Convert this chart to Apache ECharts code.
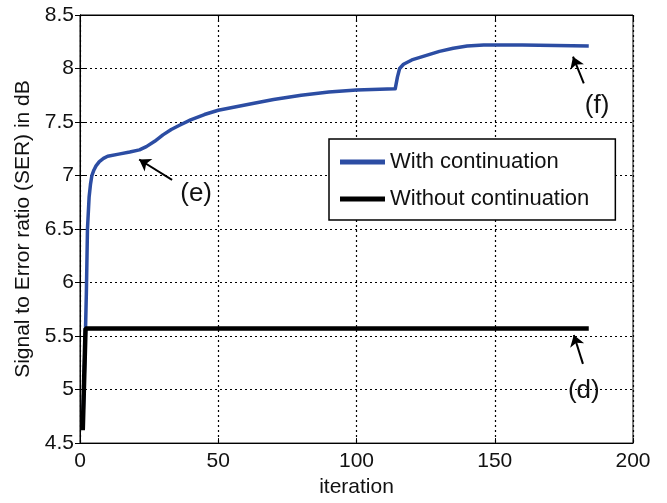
<!DOCTYPE html>
<html>
<head>
<meta charset="utf-8">
<script src="https://cdn.jsdelivr.net/npm/echarts@6/dist/echarts.min.js"></script>
<style>
  html, body { margin: 0; padding: 0; background: #fff; }
  #main { width: 667px; height: 503px; }
</style>
</head>
<body>
<div id="main"></div>
<script>
// SER vs iteration
var iterWith = [1, 2, 2.3, 2.7, 3.3, 3.8, 4.3, 5, 5.8, 7, 8.5, 10, 14, 18, 21.5, 24, 27, 30, 33, 36, 40, 45, 50, 56, 62, 70, 80, 90, 100, 114, 114.8, 115.6, 117, 120, 125, 130, 135, 140, 146, 160, 184];
var serWith  = [4.64, 5.57, 5.9, 6.5, 6.8, 6.92, 7.0, 7.05, 7.09, 7.13, 7.16, 7.18, 7.2, 7.22, 7.24, 7.27, 7.32, 7.38, 7.43, 7.47, 7.52, 7.57, 7.61, 7.64, 7.67, 7.71, 7.75, 7.78, 7.80, 7.81, 7.92, 8.0, 8.04, 8.08, 8.12, 8.16, 8.19, 8.21, 8.22, 8.22, 8.21];
var iterWithout = [1, 2, 184];
var serWithout  = [4.62, 5.57, 5.57];

// annotation arrows: [tail, head] in data coords, and label spots
var arrowE = [[33.3, 6.96], [21.4, 7.15]];
var arrowF = [[182.2, 7.86], [178.3, 8.11]];
var arrowD = [[181.9, 5.24], [178.6, 5.51]];
var labelE = [42.0, 6.83];
var labelF = [187.0, 7.65];
var labelD = [182.2, 4.99];

function pairs(xs, ys) {
  var out = [];
  for (var i = 0; i < xs.length; i++) out.push([xs[i], ys[i]]);
  return out;
}

var chart = echarts.init(document.getElementById('main'));
var font = 'Liberation Sans, Arial, Helvetica, sans-serif';

var arrowStyle = { color: '#000', width: 2, type: 'solid' };
function arrow(a) {
  return [{ coord: a[0] }, { coord: a[1] }];
}
function tag(p, txt) {
  return {
    coord: p, symbol: 'circle', symbolSize: 0,
    label: { show: true, formatter: txt, position: 'inside', color: '#111', fontSize: 26, fontFamily: font }
  };
}

var tickCommon = { show: true, inside: true, length: 5, lineStyle: { color: '#000' } };
var gridDots = { show: true, lineStyle: { color: '#000', type: [2, 3], width: 1.2 } };

var option = {
  animation: false,
  backgroundColor: '#fff',
  grid: { left: 80, top: 15, right: 34, bottom: 53, show: true, borderColor: '#000', borderWidth: 1 },
  legend: {
    orient: 'vertical',
    left: 329, top: 139,
    padding: [12, 26, 10, 11],
    itemGap: 15,
    itemWidth: 45, itemHeight: 5,
    icon: 'rect',
    borderColor: '#000', borderWidth: 1.5,
    backgroundColor: '#fff',
    textStyle: { fontSize: 22, fontFamily: font, color: '#111', lineHeight: 22 },
    data: ['With continuation', 'Without continuation']
  },
  xAxis: [{
    type: 'value', min: 0, max: 200, interval: 50,
    name: 'iteration', nameLocation: 'middle', nameGap: 33,
    nameTextStyle: { fontSize: 21, fontFamily: font, color: '#111' },
    axisLine: { show: true, lineStyle: { color: '#000' } },
    axisTick: tickCommon,
    axisLabel: { fontSize: 21, fontFamily: font, color: '#111', margin: 8 },
    splitLine: gridDots
  }, {
    type: 'value', position: 'top', min: 0, max: 200, interval: 50,
    axisLine: { show: true, lineStyle: { color: '#000' } },
    axisTick: tickCommon, axisLabel: { show: false }, splitLine: { show: false }
  }],
  yAxis: [{
    type: 'value', min: 4.5, max: 8.5, interval: 0.5,
    name: 'Signal to Error ratio (SER) in dB', nameLocation: 'middle', nameGap: 38,
    nameTextStyle: { fontSize: 21, fontFamily: font, color: '#111' },
    axisLine: { show: true, lineStyle: { color: '#000' } },
    axisTick: tickCommon,
    axisLabel: { fontSize: 21, fontFamily: font, color: '#111', margin: 6 },
    splitLine: gridDots
  }, {
    type: 'value', position: 'right', min: 4.5, max: 8.5, interval: 0.5,
    axisLine: { show: true, lineStyle: { color: '#000' } },
    axisTick: tickCommon, axisLabel: { show: false }, splitLine: { show: false }
  }],
  series: [{
    name: 'With continuation',
    type: 'line',
    data: pairs(iterWith, serWith),
    showSymbol: false, symbol: 'none',
    smooth: false,
    color: '#2c4da3',
    lineStyle: { color: '#2c4da3', width: 3.5, join: 'round' },
    markLine: {
      silent: true, symbol: ['none', 'arrow'], symbolSize: 11,
      label: { show: false }, lineStyle: arrowStyle,
      data: [arrow(arrowE), arrow(arrowF)]
    },
    markPoint: { silent: true, data: [tag(labelE, '(e)'), tag(labelF, '(f)')] }
  }, {
    name: 'Without continuation',
    type: 'line',
    data: pairs(iterWithout, serWithout),
    showSymbol: false, symbol: 'none',
    color: '#000',
    lineStyle: { color: '#000', width: 4.5 },
    markLine: {
      silent: true, symbol: ['none', 'arrow'], symbolSize: 11,
      label: { show: false }, lineStyle: arrowStyle,
      data: [arrow(arrowD)]
    },
    markPoint: { silent: true, data: [tag(labelD, '(d)')] }
  }]
};

chart.setOption(option);
</script>
</body>
</html>
